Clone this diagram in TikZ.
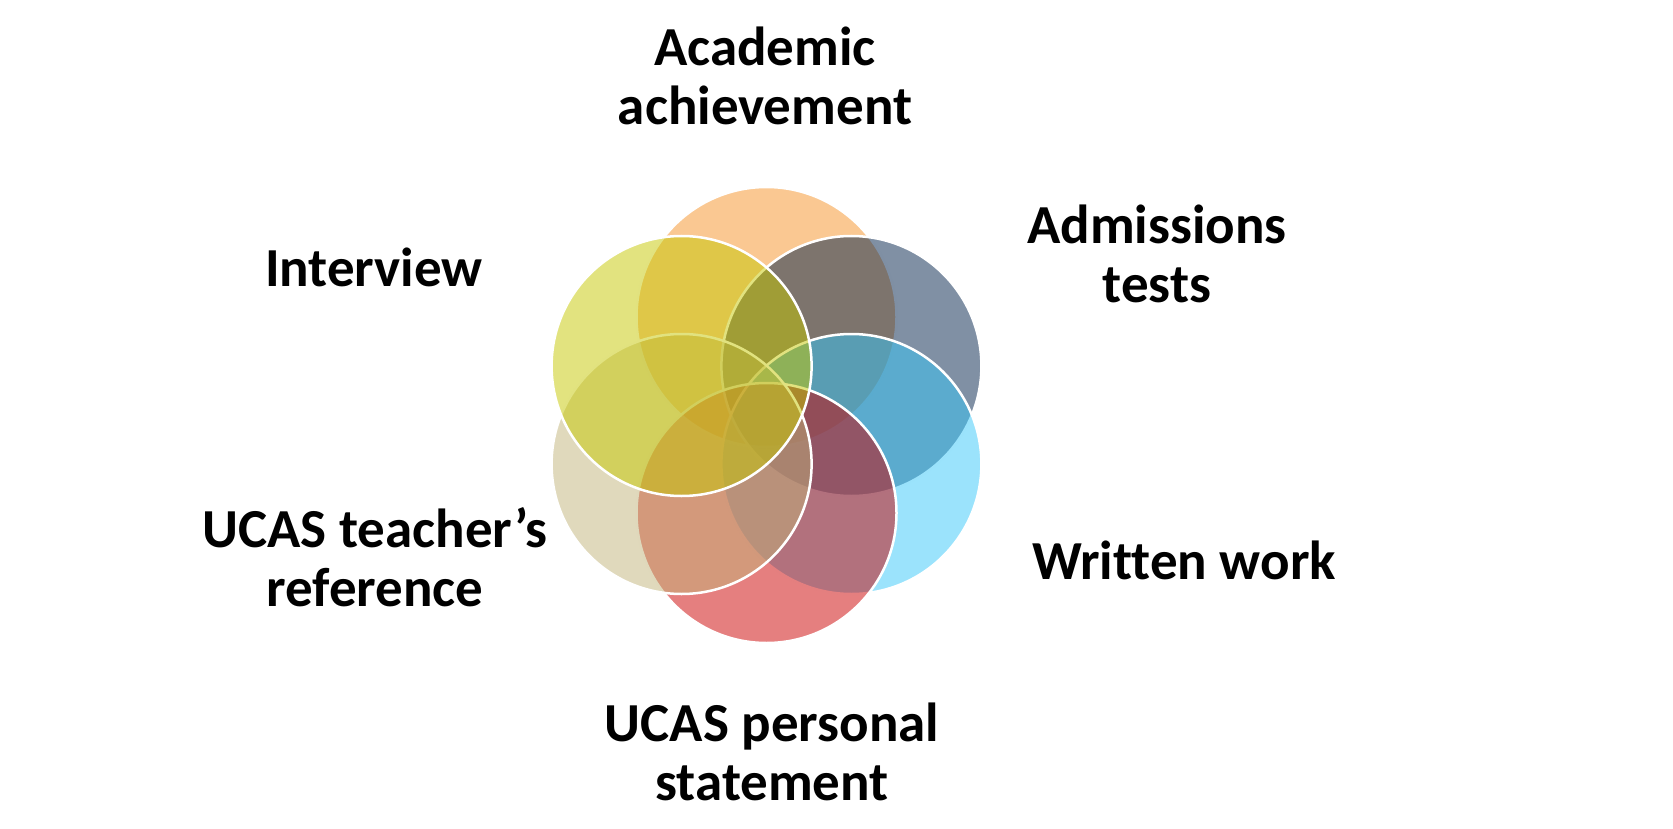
\documentclass[tikz,border=0pt]{standalone}
\usepackage{fontspec}
\setmainfont[Ligatures=NoCommon]{Carlito}
\usepackage{tikz}

\definecolor{acadorange}{RGB}{245,145,37}
\definecolor{admgrey}{RGB}{1,33,73}
\definecolor{writblue}{RGB}{55,199,249}
\definecolor{persred}{RGB}{203,0,0}
\definecolor{refbeige}{RGB}{193,179,121}
\definecolor{intvyellow}{RGB}{197,199,0}

\tikzset{
  venn/.style={circle, minimum size=260pt, inner sep=0pt, outer sep=0pt,
    draw=white, line width=2.5pt, fill opacity=0.5},
  caption/.style={align=center, anchor=base,
    font=\bfseries\fontsize{55}{59}\selectfont}
}

\begin{document}
\begin{tikzpicture}[x=1pt, y=-1pt]
  \useasboundingbox (0,0) rectangle (1673,829);
  % circles
  \node[venn, fill=acadorange] (acad) at (766.5, 317) {};
  \node[venn, fill=admgrey] (adm) at (851.4, 366) {};
  \node[venn, fill=writblue] (writ) at (851.4, 464) {};
  \node[venn, fill=persred] (pers) at (766.5, 513) {};
  \node[venn, fill=refbeige] (ref) at (681.6, 464) {};
  \node[venn, fill=intvyellow] (intv) at (681.6, 366) {};
  % labels (base = last line)
  \node[caption] (acadlabel) at (765, 125) {Academic\\achievement};
  \node[caption] (admlabel) at (1157, 302) {Admissions\\tests};
  \node[caption] (intvlabel) at (374, 286) {Interview};
  \node[caption] (reflabel) at (375, 606) {UCAS teacher’s\\reference};
  \node[caption] (writlabel) at (1184, 579) {Written work};
  \node[caption] (perslabel) at (772, 800) {UCAS personal\\statement};
\end{tikzpicture}
\end{document}
